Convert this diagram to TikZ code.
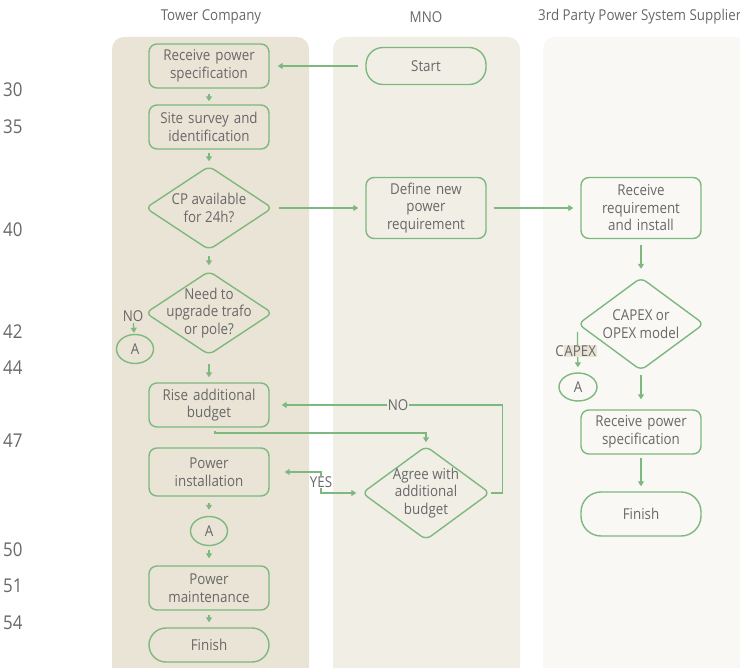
\documentclass[tikz,border=0pt]{standalone}
\usepackage{fontspec}
\setmainfont{Open Sans}[FakeStretch=0.89]
\usetikzlibrary{shapes.geometric,arrows.meta}
\definecolor{lnA}{HTML}{EAE4D6}
\definecolor{lnB}{HTML}{F1EEE6}
\definecolor{lnC}{HTML}{F9F8F5}
\definecolor{grn}{HTML}{7DB87F}
\definecolor{txt}{HTML}{686868}
\begin{document}
\begin{tikzpicture}[x=1pt,y=-1pt,
  lane/.style={rounded corners=12pt},
  title/.style={text=txt,font=\fontsize{15}{17}\selectfont,inner sep=0pt},
  num/.style={text=txt,font=\fontsize{19}{21}\selectfont,inner sep=0pt,anchor=west},
  box/.style={draw=grn,line width=1.4pt,rounded corners=8pt,minimum width=120pt,
    text width=118pt,align=center,font=\fontsize{15}{17.5}\selectfont,text=txt,inner sep=0pt},
  term/.style={draw=grn,line width=1.4pt,rounded corners=17pt,minimum width=120pt,
    align=center,font=\fontsize{15}{17.5}\selectfont,text=txt,inner sep=0pt},
  dia/.style={draw=grn,line width=1.4pt,diamond,rounded corners=6pt,inner sep=0pt},
  dtext/.style={align=center,font=\fontsize{15}{17.5}\selectfont,text=txt,inner sep=0pt},
  conn/.style={draw=grn,line width=1.4pt,ellipse,minimum width=37pt,minimum height=29pt,
    inner sep=0pt,font=\fontsize{15}{17}\selectfont,text=txt},
  lbl/.style={font=\fontsize{15}{17}\selectfont,text=txt,inner sep=0.5pt},
  flow/.style={draw=grn,line width=1.3pt,-{Triangle[length=5pt,width=6pt]}},
  line/.style={draw=grn,line width=1.3pt}
]
\useasboundingbox (0,0) rectangle (740,668);
% lanes
\fill[lnA,lane] (112,37) rectangle (309,690);
\fill[lnB,lane] (333,37) rectangle (520,690);
\fill[lnC,lane] (543,37) rectangle (752,690);
% titles
\node[title] (t1) at (211,17) {Tower Company};
\node[title] (t2) at (426,17) {MNO};
\node[title,anchor=west] (t3) at (538,17) {3rd Party Power System Supplier};
% numbers
\node[num] (n30) at (3,90) {30};
\node[num] (n35) at (3,127) {35};
\node[num] (n40) at (3,230) {40};
\node[num] (n42) at (3,332) {42};
\node[num] (n44) at (3,368) {44};
\node[num] (n47) at (3,441) {47};
\node[num] (n50) at (3,550) {50};
\node[num] (n51) at (3,586) {51};
\node[num] (n54) at (3,623) {54};
% lane 1
\node[box,minimum height=44pt] (rps) at (209,66) {Receive power\\specification};
\node[box,minimum height=44pt] (ssi) at (209,127) {Site survey and\\identification};
\node[dia,minimum width=127pt,minimum height=84pt] (cp) at (209,208) {};
\node[dtext] (cpt) at (cp) {CP available\\for 24h?};
\node[dia,minimum width=127pt,minimum height=84pt] (need) at (209,313) {};
\node[dtext] (needt) at (need) {Need to\\upgrade trafo\\or pole?};
\node[lbl] (no1) at (133,316) {NO};
\node[conn] (a1) at (135,349) {A};
\node[box,minimum height=44pt] (rise) at (209,405) {Rise additional\\budget};
\node[box,minimum height=48pt] (pinst) at (209,472) {Power\\installation};
\node[conn] (a2) at (209,531) {A};
\node[box,minimum height=44pt] (pmaint) at (209,588) {Power\\maintenance};
\node[term,minimum height=34pt] (fin1) at (209,645) {Finish};
% lane 2
\node[term,minimum height=37pt] (start) at (426,66) {Start};
\node[box,minimum height=61pt] (define) at (426,208) {Define new\\power\\requirement};
\node[dia,minimum width=128pt,minimum height=94pt] (agree) at (426,493) {};
\node[dtext] (agreet) at (agree) {Agree with\\additional\\budget};
% lane 3
\node[box,minimum height=61pt] (rri) at (641,208) {Receive\\requirement\\and install};
\node[dia,minimum width=126pt,minimum height=93pt] (capex) at (641,324) {};
\node[dtext] (capext) at (capex) {CAPEX or\\OPEX model};
\node[conn,minimum width=38pt,minimum height=28pt] (a3) at (578,387) {A};
\node[box,minimum height=44pt] (rps3) at (641,432) {Receive power\\specification};
\node[term,minimum height=44pt,rounded corners=20pt] (fin3) at (641,514) {Finish};
% connectors lane 1
\draw[flow,shorten <=5pt,shorten >=3pt] (rps) -- (ssi);
\draw[flow,shorten <=3pt,shorten >=4pt] (ssi) -- (cp);
\draw[flow,shorten <=5pt,shorten >=5pt] (cp) -- (need);
\draw[flow,shorten <=8pt,shorten >=5pt] (need) -- (rise);
\draw[flow,shorten <=1pt,shorten >=1pt] (no1) -- (a1);
\draw[flow,shorten <=6pt,shorten >=6pt] (pinst) -- (a2);
\draw[flow,shorten <=4pt,shorten >=7pt] (a2) -- (pmaint);
\draw[flow,shorten <=4pt,shorten >=5pt] (pmaint) -- (fin1);
% cross lanes
\draw[flow,shorten <=7pt,shorten >=8pt] (start) -- (rps);
\draw[flow,shorten <=6pt,shorten >=7pt] (cp.east) -- (define.west);
\draw[flow,shorten <=7pt,shorten >=7pt] (define) -- (rri);
\draw[flow,line width=1.5pt,shorten <=3pt,shorten >=3pt] ([xshift=6pt]rise.south) -- ++(0,5.5) -| (agree.north);
\node[lbl,fill=lnB] (nolab) at (398,405) {NO};
\draw[line] (agree.east) -- ++(12,0) |- (nolab.east);
\draw[flow,shorten >=12pt] (nolab.west) -- (rise.east);
\coordinate (yesc) at (321,482);
\draw[line,{Triangle[length=5pt,width=6pt]}-{Triangle[length=5pt,width=6pt]},shorten <=15pt,shorten >=5pt] (pinst.east) -| (yesc) |- (agree.west);
\node[lbl,fill=white] (yes) at (yesc) {YES};
% lane 3
\draw[flow,shorten <=6pt,shorten >=8pt] (rri) -- (capex);
\draw[flow,shorten <=4pt,shorten >=10pt] (capex) -- (rps3);
\draw[flow,shorten <=3pt,shorten >=5pt] (rps3) -- (fin3);
\draw[flow,shorten <=8pt,shorten >=5pt] (capex.west) -- (a3.north);
\node[lbl,inner sep=0pt] (capexl) at (576,351) {{\setlength{\fboxsep}{0.6pt}C\colorbox{lnA}{APEX}}};
\end{tikzpicture}
\end{document}
